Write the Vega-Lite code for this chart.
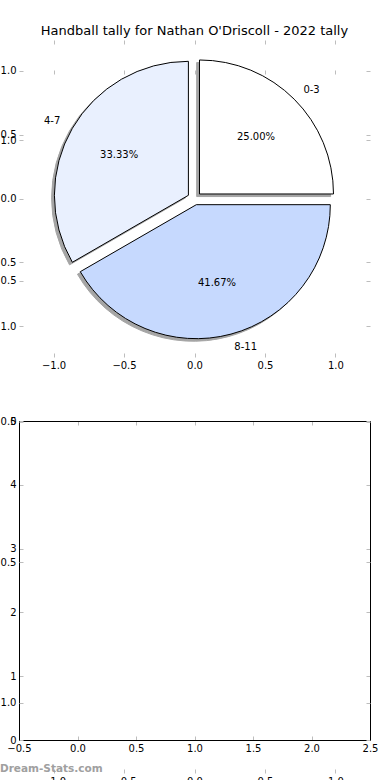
{
  "$schema": "https://vega.github.io/schema/vega-lite/v6.json",
  "width": 351,
  "height": 733,
  "autosize": {"type": "none"},
  "padding": {"left": 19, "top": 40, "right": 20, "bottom": 7},
  "background": "white",
  "title": {"text": "Handball tally for Nathan O'Driscoll - 2022 tally", "font": "DejaVu Sans", "fontSize": 13, "fontWeight": "normal", "color": "#000000", "anchor": "middle", "offset": 2},
  "data": {"values": [
    {"label": "0-3", "count": 3, "pct": "25.00%"},
    {"label": "4-7", "count": 4, "pct": "33.33%"},
    {"label": "8-11", "count": 5, "pct": "41.67%"}
  ]},
  "config": {
    "view": {"stroke": null},
    "axis": {"labelFont": "DejaVu Sans", "labelFontSize": 10, "labelColor": "#000000", "tickColor": "#bdbdbd", "tickSize": -4, "tickWidth": 1, "grid": false, "domain": false, "labelFlush": false, "labelOverlap": false, "labelBound": false, "labelPadding": 7, "domainColor": "#000000", "domainWidth": 1}
  },
  "resolve": {"scale": {"x": "independent", "y": "independent"}, "axis": {"x": "independent", "y": "independent"}},
  "layer": [
    {
      "resolve": {"axis": {"x": "independent", "y": "independent"}},
      "layer": [
        {"mark": {"type": "point", "opacity": 0}, "encoding": {
          "x": {"datum": 0, "type": "quantitative", "scale": {"domain": [-0.5, 2.5], "zero": false, "nice": false}, "axis": {"orient": "bottom", "offset": -33, "values": [-0.5, 0, 0.5, 1, 1.5, 2, 2.5], "format": ".1f", "domain": true, "title": null}},
          "y": {"datum": 0, "type": "quantitative", "scale": {"domain": [0, 5], "range": [700, 381], "zero": false, "nice": false}, "axis": {"orient": "left", "values": [0, 1, 2, 3, 4, 5], "format": "d", "domain": true, "title": null}}
        }},
        {"mark": {"type": "point", "opacity": 0}, "encoding": {
          "x": {"datum": 0, "type": "quantitative", "axis": {"orient": "top", "offset": -381, "values": [-0.5, 0, 0.5, 1, 1.5, 2, 2.5], "labels": false, "domain": true, "title": null}},
          "y": {"datum": 0, "type": "quantitative", "axis": {"orient": "right", "values": [0, 1, 2, 3, 4, 5], "labels": false, "domain": true, "title": null}}
        }}
      ]
    },
    {
      "resolve": {"axis": {"x": "independent", "y": "independent"}},
      "layer": [
        {"mark": {"type": "point", "opacity": 0}, "encoding": {
          "x": {"datum": 0, "type": "quantitative", "scale": {"domain": [-1.245, 1.245], "zero": false, "nice": false}, "axis": {"orient": "bottom", "values": [-1, -0.5, 0, 0.5, 1], "format": ".1f", "title": null}},
          "y": {"datum": 0, "type": "quantitative", "scale": {"domain": [-1.25, 1.25], "range": [733, 30], "zero": false, "nice": false}, "axis": {"orient": "left", "values": [-1, -0.5, 0, 0.5, 1], "format": ".1f", "title": null}}
        }},
        {"mark": {"type": "point", "opacity": 0}, "encoding": {
          "x": {"datum": 0, "type": "quantitative", "axis": {"orient": "top", "offset": -30, "values": [-1, -0.5, 0, 0.5, 1], "labels": false, "title": null}},
          "y": {"datum": 0, "type": "quantitative", "axis": {"orient": "right", "values": [-1, -0.5, 0, 0.5, 1], "labels": false, "title": null}}
        }},
        {"data": {"values": [{"site": "Dream-Stats.com"}]},
         "mark": {"type": "text", "align": "left", "baseline": "middle", "font": "DejaVu Sans", "fontSize": 10.5, "fontWeight": "bold", "color": "#a0a0a0"},
         "encoding": {
          "x": {"datum": -1.38, "type": "quantitative", "axis": null},
          "y": {"datum": -1.236, "type": "quantitative", "axis": null},
          "text": {"field": "site"}
        }}
      ]
    },
    {
      "resolve": {"axis": {"x": "independent", "y": "independent"}},
      "layer": [
        {"transform": [{"stack": "count", "groupby": [], "sort": [{"field": "label", "order": "ascending"}], "as": ["t0", "t1"]}, {"filter": {"field": "label", "equal": "0-3"}}],
         "mark": {"type": "arc", "outerRadius": 134, "fill": "#4d4d4d", "stroke": "#4d4d4d", "strokeWidth": 1, "opacity": 0.5},
         "encoding": {
          "theta": {"field": "t0", "type": "quantitative", "scale": {"type": "linear", "domain": [0, 12], "range": [1.5708, -4.7124], "zero": false, "nice": false}},
          "theta2": {"field": "t1"},
          "x": {"datum": 0.0154, "type": "quantitative", "scale": {"domain": [-1.245, 1.245], "zero": false, "nice": false}, "axis": {"orient": "bottom", "offset": -416, "values": [-1, -0.5, 0, 0.5, 1], "format": ".1f", "title": null}},
          "y": {"datum": 0.0154, "type": "quantitative", "scale": {"domain": [-1.24, 1.24], "range": [317, 0], "zero": false, "nice": false}, "axis": {"orient": "left", "values": [-1, -0.5, 0, 0.5, 1], "format": ".1f", "title": null}}
        }},
        {"transform": [{"stack": "count", "groupby": [], "sort": [{"field": "label", "order": "ascending"}], "as": ["t0", "t1"]}, {"filter": {"field": "label", "equal": "4-7"}}],
         "mark": {"type": "arc", "outerRadius": 134, "fill": "#4d4d4d", "stroke": "#4d4d4d", "strokeWidth": 1, "opacity": 0.5},
         "encoding": {
          "theta": {"field": "t0", "type": "quantitative"},
          "theta2": {"field": "t1"},
          "x": {"datum": -0.0633, "type": "quantitative", "axis": {"orient": "top", "values": [-1, -0.5, 0, 0.5, 1], "labels": false, "title": null}},
          "y": {"datum": 0.005, "type": "quantitative", "axis": {"orient": "right", "values": [-1, -0.5, 0, 0.5, 1], "labels": false, "title": null}}
        }},
        {"transform": [{"stack": "count", "groupby": [], "sort": [{"field": "label", "order": "ascending"}], "as": ["t0", "t1"]}, {"filter": {"field": "label", "equal": "8-11"}}],
         "mark": {"type": "arc", "outerRadius": 134, "fill": "#4d4d4d", "stroke": "#4d4d4d", "strokeWidth": 1, "opacity": 0.5},
         "encoding": {
          "theta": {"field": "t0", "type": "quantitative"},
          "theta2": {"field": "t1"},
          "x": {"datum": -0.0071, "type": "quantitative", "axis": null},
          "y": {"datum": -0.0683, "type": "quantitative", "axis": null}
        }},
        {"transform": [{"stack": "count", "groupby": [], "sort": [{"field": "label", "order": "ascending"}], "as": ["t0", "t1"]}, {"filter": {"field": "label", "equal": "0-3"}}],
         "mark": {"type": "arc", "outerRadius": 134, "stroke": "#000000", "strokeWidth": 1},
         "encoding": {
          "theta": {"field": "t0", "type": "quantitative"},
          "theta2": {"field": "t1"},
          "color": {"field": "label", "type": "nominal", "scale": {"domain": ["0-3", "4-7", "8-11"], "range": ["#ffffff", "#e9f0fe", "#c6d9fe"]}, "legend": null},
          "x": {"datum": 0.0354, "type": "quantitative", "axis": null},
          "y": {"datum": 0.0354, "type": "quantitative", "axis": null}
        }},
        {"transform": [{"stack": "count", "groupby": [], "sort": [{"field": "label", "order": "ascending"}], "as": ["t0", "t1"]}, {"filter": {"field": "label", "equal": "4-7"}}],
         "mark": {"type": "arc", "outerRadius": 134, "stroke": "#000000", "strokeWidth": 1},
         "encoding": {
          "theta": {"field": "t0", "type": "quantitative"},
          "theta2": {"field": "t1"},
          "color": {"field": "label", "type": "nominal", "legend": null},
          "x": {"datum": -0.0433, "type": "quantitative", "axis": null},
          "y": {"datum": 0.025, "type": "quantitative", "axis": null}
        }},
        {"transform": [{"stack": "count", "groupby": [], "sort": [{"field": "label", "order": "ascending"}], "as": ["t0", "t1"]}, {"filter": {"field": "label", "equal": "8-11"}}],
         "mark": {"type": "arc", "outerRadius": 134, "stroke": "#000000", "strokeWidth": 1},
         "encoding": {
          "theta": {"field": "t0", "type": "quantitative"},
          "theta2": {"field": "t1"},
          "color": {"field": "label", "type": "nominal", "legend": null},
          "x": {"datum": 0.0129, "type": "quantitative", "axis": null},
          "y": {"datum": -0.0483, "type": "quantitative", "axis": null}
        }},
        {"mark": {"type": "text", "radius": 87, "align": "center", "baseline": "middle", "font": "DejaVu Sans", "fontSize": 10, "color": "#000000"},
         "encoding": {
          "theta": {"field": "count", "type": "quantitative", "stack": true},
          "order": {"field": "label", "sort": "ascending"},
          "x": {"datum": 0, "type": "quantitative", "axis": null},
          "y": {"datum": 0, "type": "quantitative", "axis": null},
          "text": {"field": "pct"}
        }},
        {"mark": {"type": "text", "radius": 154, "align": "left", "baseline": "middle", "font": "DejaVu Sans", "fontSize": 10, "color": "#000000"},
         "encoding": {
          "theta": {"field": "count", "type": "quantitative", "stack": true},
          "order": {"field": "label", "sort": "ascending"},
          "x": {"datum": 0, "type": "quantitative", "axis": null},
          "y": {"datum": 0, "type": "quantitative", "axis": null},
          "text": {"condition": {"test": "datum.label !== '4-7'", "field": "label"}, "value": ""}
        }},
        {"mark": {"type": "text", "radius": 155, "align": "right", "baseline": "middle", "font": "DejaVu Sans", "fontSize": 10, "color": "#000000"},
         "encoding": {
          "theta": {"field": "count", "type": "quantitative", "stack": true},
          "order": {"field": "label", "sort": "ascending"},
          "x": {"datum": 0, "type": "quantitative", "axis": null},
          "y": {"datum": 0, "type": "quantitative", "axis": null},
          "text": {"condition": {"test": "datum.label === '4-7'", "field": "label"}, "value": ""}
        }}
      ]
    }
  ]
}
